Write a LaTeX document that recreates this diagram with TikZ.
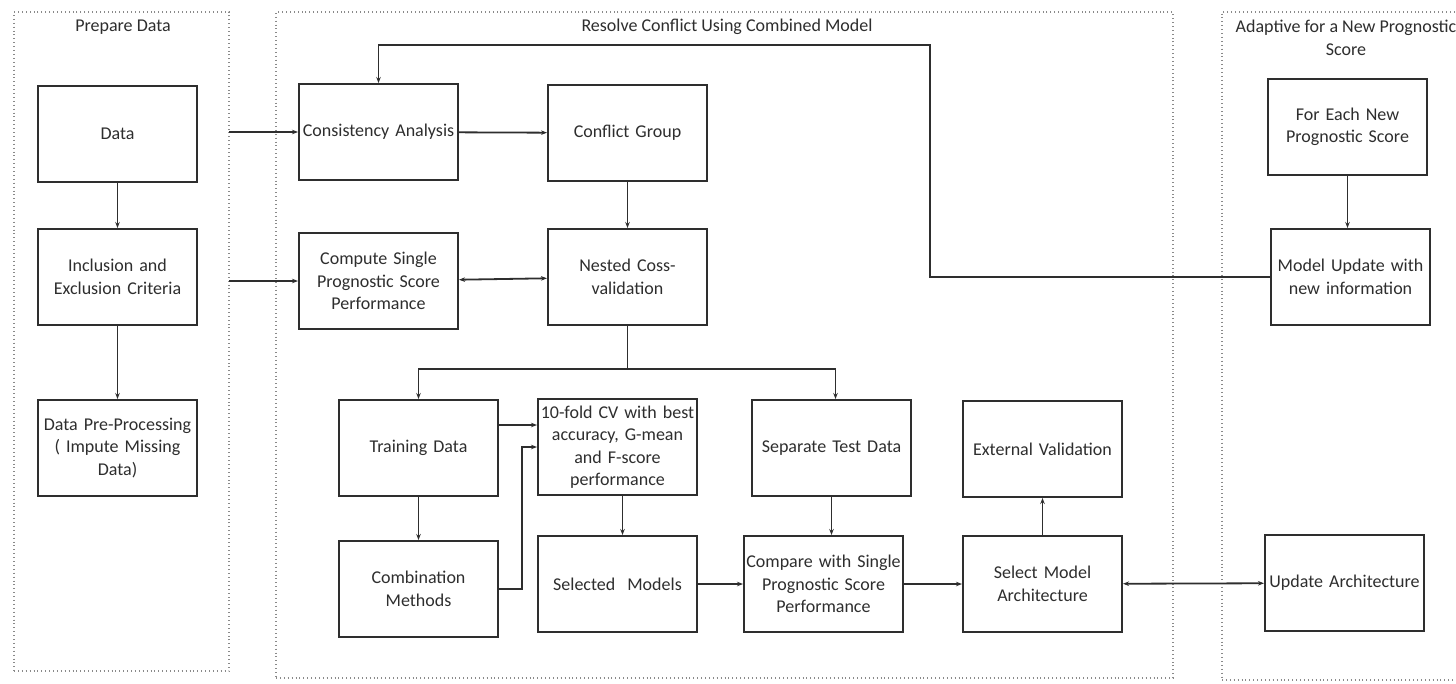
\documentclass[tikz,border=0pt]{standalone}
\usepackage{fontspec}
\setmainfont{Carlito}
\usetikzlibrary{arrows.meta,calc}
\definecolor{ink}{HTML}{2E2E2E}
\definecolor{dots}{HTML}{8A8A8A}
\begin{document}
\begin{tikzpicture}[x=1pt,y=-1pt,
  font=\fontsize{18}{22.5}\selectfont,
  box/.style={draw=ink, line width=2pt, minimum width=159pt, minimum height=96pt,
    inner sep=0pt, align=center, text width=156pt, text=ink},
  panel/.style={draw=dots, line width=1.4pt, dash pattern=on 0.9pt off 3pt,
    inner sep=0pt, outer sep=0pt},
  title/.style={text=ink, align=center, inner sep=0pt},
  tip/.tip={Stealth[length=6pt,width=4.5pt]},
  arr/.style={draw=ink, line width=1.8pt, -tip},
  dbl/.style={draw=ink, line width=1.8pt, tip-tip},
  ln/.style={draw=ink, line width=1.8pt}]
\clip (0,0) rectangle (1456,683);
\fill[white] (0,0) rectangle (1456,683);

% dotted panels
\node[panel, minimum width=215pt, minimum height=659pt] (p1) at (121.5,341.5) {};
\node[panel, minimum width=897pt, minimum height=666pt] (p2) at (724.5,345) {};
\node[panel, minimum width=258pt, minimum height=668pt] (p3) at (1351,346) {};

% panel titles
\node[title] (t1) at (123,27) {Prepare Data};
\node[title] (t2) at (727,27) {Resolve Conflict Using Combined Model};
\node[title] (t3) at (1346,38) {Adaptive for a New Prognostic\\Score};

% Prepare Data
\node[box] (data) at (117.5,134) {Data};
\node[box] (incl) at (117.5,277) {Inclusion and\\Exclusion Criteria};
\node[box] (prep) at (117.5,448) {Data Pre-Processing\\( Impute Missing\\Data)};

% Resolve Conflict
\node[box] (cons) at (378.5,132) {Consistency Analysis};
\node[box] (comp) at (378.5,281) {Compute Single\\Prognostic Score\\Performance};
\node[box] (conf) at (627.5,133) {Conflict Group};
\node[box] (nest) at (627.5,277) {Nested Coss-\\validation};
\node[box] (train) at (418.5,448) {Training Data};
\node[box] (comb) at (418.5,589) {Combination\\Methods};
\node[box] (tenf) at (617.5,447) {10-fold CV with best\\accuracy, G-mean\\and F-score\\performance};
\node[box] (sel) at (617.5,584) {Selected\ \ Models};
\node[box] (sep) at (831.5,448) {Separate Test Data};
\node[box] (cmp) at (823.5,584) {Compare with Single\\Prognostic Score\\Performance};
\node[box] (ext) at (1042.5,449) {External Validation};
\node[box] (sma) at (1042.5,584) {Select Model\\Architecture};

% Adaptive
\node[box] (fen) at (1347.5,127) {For Each New\\Prognostic Score};
\node[box] (mup) at (1350.5,277) {Model Update with\\new information};
\node[box] (uar) at (1344.5,583) {Update Architecture};

% connectors
\draw[arr] (data) -- (incl);
\draw[arr] (incl) -- (prep);
\draw[arr] (p1.east |- cons.west) -- (cons.west);
\draw[arr] (p1.east |- comp.west) -- (comp.west);
\draw[arr] (cons) -- (conf);
\draw[arr] (conf) -- (nest);
\draw[dbl] (comp) -- (nest);
\draw[ln] (nest.south) -- ++(0,43) coordinate (split);
\draw[arr] (split) -| (train.north);
\draw[arr] (split) -| ([xshift=4pt]sep.north);
\draw[arr] (train) -- (comb);
\draw[arr] ([yshift=23pt]train.east) coordinate (ta) -- (ta -| tenf.west);
\draw[arr] (comb.east) -- ++(23,0) |- (tenf.west);
\draw[arr] ([xshift=5pt]tenf.south) -- ([xshift=5pt]sel.north);
\draw[arr] (sel) -- (cmp);
\draw[arr] (sep.south) -- (sep.south |- cmp.north);
\draw[arr] (cmp) -- (sma);
\draw[arr] (sma) -- (ext);
\draw[dbl] (sma) -- (uar);
\draw[arr] (fen.south) -- (fen.south |- mup.north);
\coordinate (turn) at (930,45);
\draw[arr] (mup.west) -| (turn) -| (cons.north);
\end{tikzpicture}
\end{document}
